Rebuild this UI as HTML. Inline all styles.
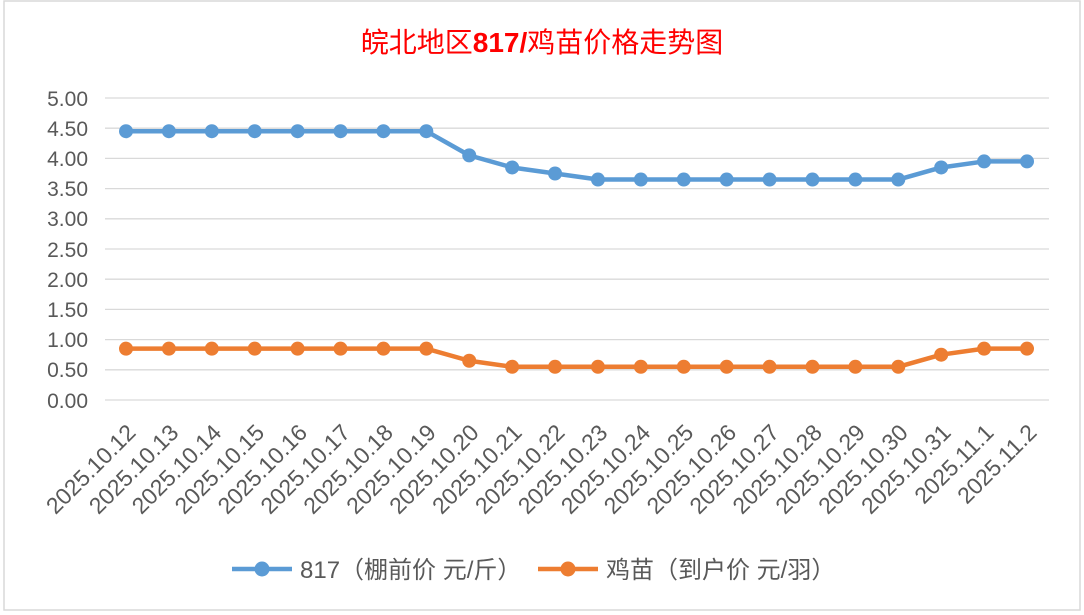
<!DOCTYPE html>
<html><head><meta charset="utf-8"><style>
html,body{margin:0;padding:0;background:#fff;}
svg{display:block;font-family:"Liberation Sans","Noto Sans CJK SC",sans-serif;}
</style></head><body>
<svg width="1084" height="615" viewBox="0 0 1084 615">
<rect x="0" y="0" width="1084" height="615" fill="#fff"/>
<rect x="4" y="1" width="1076" height="609" fill="#fff" stroke="#d9d9d9" stroke-width="1.5"/>
<text x="542" y="52" text-anchor="middle" font-size="28" fill="#ff0000" font-family="'Noto Sans CJK SC',sans-serif">皖北地区<tspan font-weight="bold" font-family="'Liberation Sans',sans-serif">817/</tspan>鸡苗价格走势图</text>
<g stroke="#d9d9d9" stroke-width="1.3">
<line x1="105" x2="1049" y1="98" y2="98"/><line x1="105" x2="1049" y1="128.2" y2="128.2"/>
<line x1="105" x2="1049" y1="158.4" y2="158.4"/><line x1="105" x2="1049" y1="188.6" y2="188.6"/>
<line x1="105" x2="1049" y1="218.8" y2="218.8"/><line x1="105" x2="1049" y1="249" y2="249"/>
<line x1="105" x2="1049" y1="279.2" y2="279.2"/><line x1="105" x2="1049" y1="309.4" y2="309.4"/>
<line x1="105" x2="1049" y1="339.6" y2="339.6"/><line x1="105" x2="1049" y1="369.8" y2="369.8"/>
<line x1="105" x2="1049" y1="400" y2="400"/>
</g>
<g font-size="21" fill="#595959" text-anchor="end">
<text x="88" y="106">5.00</text><text x="88" y="136">4.50</text><text x="88" y="166">4.00</text>
<text x="88" y="196">3.50</text><text x="88" y="226">3.00</text><text x="88" y="257">2.50</text>
<text x="88" y="287">2.00</text><text x="88" y="317">1.50</text><text x="88" y="347">1.00</text>
<text x="88" y="377">0.50</text><text x="88" y="408">0.00</text>
</g>
<g id="lbl" font-size="23" fill="#595959" text-anchor="end"></g>
<polyline id="b" fill="none" stroke="#5b9bd5" stroke-width="4.5" stroke-linejoin="round"/>
<polyline id="o" fill="none" stroke="#ed7d31" stroke-width="4.5" stroke-linejoin="round"/>
<g id="bm" fill="#5b9bd5"></g><g id="om" fill="#ed7d31"></g>
<line x1="232" x2="292" y1="569" y2="569" stroke="#5b9bd5" stroke-width="4.5"/>
<circle cx="262" cy="569" r="7.5" fill="#5b9bd5"/>
<text x="300" y="578" font-size="24" fill="#595959">817（棚前价 元/斤）</text>
<line x1="538" x2="598" y1="569" y2="569" stroke="#ed7d31" stroke-width="4.5"/>
<circle cx="568" cy="569" r="7.5" fill="#ed7d31"/>
<text x="606" y="578" font-size="24" fill="#595959">鸡苗（到户价 元/羽）</text>
</svg>
<script>
var labels=["2025.10.12","2025.10.13","2025.10.14","2025.10.15","2025.10.16","2025.10.17","2025.10.18","2025.10.19","2025.10.20","2025.10.21","2025.10.22","2025.10.23","2025.10.24","2025.10.25","2025.10.26","2025.10.27","2025.10.28","2025.10.29","2025.10.30","2025.10.31","2025.11.1","2025.11.2"];
var B=[4.45,4.45,4.45,4.45,4.45,4.45,4.45,4.45,4.05,3.85,3.75,3.65,3.65,3.65,3.65,3.65,3.65,3.65,3.65,3.85,3.95,3.95];
var O=[0.85,0.85,0.85,0.85,0.85,0.85,0.85,0.85,0.65,0.55,0.55,0.55,0.55,0.55,0.55,0.55,0.55,0.55,0.55,0.75,0.85,0.85];
var n=labels.length,x0=126,x1=1027,dx=(x1-x0)/(n-1);
function Y(v){return 400-v*60.4;}
var ns="http://www.w3.org/2000/svg",pb=[],po=[];
for(var i=0;i<n;i++){var x=x0+i*dx;pb.push(x+","+Y(B[i]));po.push(x+","+Y(O[i]));
["bm","om"].forEach(function(id,k){var c=document.createElementNS(ns,"circle");c.setAttribute("cx",x);c.setAttribute("cy",Y(k?O[i]:B[i]));c.setAttribute("r",7);document.getElementById(id).appendChild(c);});
var t=document.createElementNS(ns,"text");var lx=x+11,ly=434;t.setAttribute("x",lx);t.setAttribute("y",ly);t.setAttribute("transform","rotate(-45 "+lx+" "+ly+")");t.textContent=labels[i];document.getElementById("lbl").appendChild(t);}
document.getElementById("b").setAttribute("points",pb.join(" "));
document.getElementById("o").setAttribute("points",po.join(" "));
</script>
</body></html>
